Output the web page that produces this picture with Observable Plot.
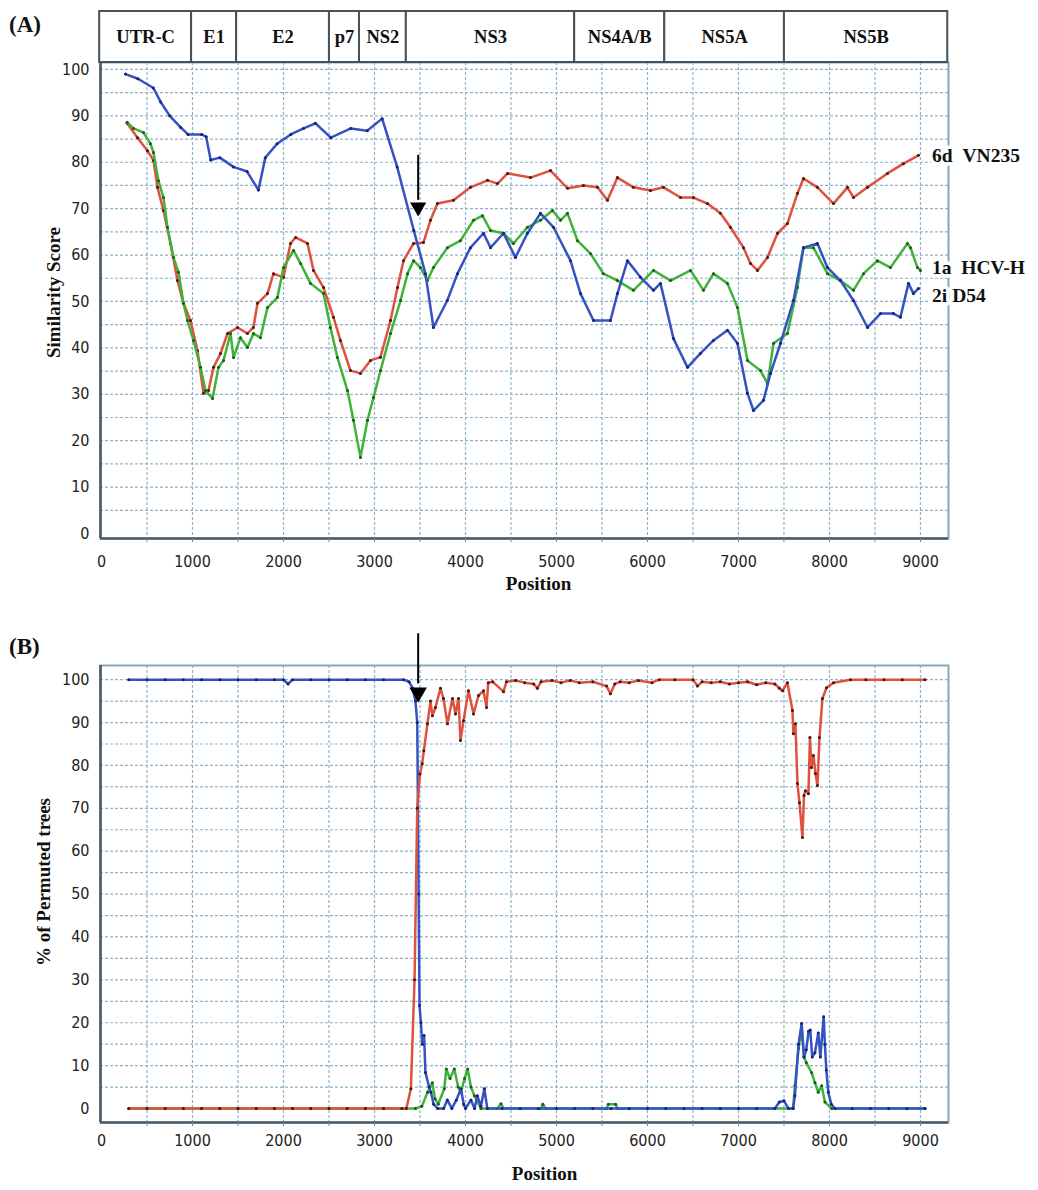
<!DOCTYPE html>
<html>
<head>
<meta charset="utf-8">
<script src="https://cdn.jsdelivr.net/npm/d3@7"></script>
<script src="https://cdn.jsdelivr.net/npm/@observablehq/plot@0.6"></script>
<style>
  body { margin: 0; background: #fff; }
  #wrap { position: relative; width: 1038px; height: 1190px; overflow: hidden; background: #fff; }
  #wrap svg { position: absolute; left: 0; }
  .plab { position: absolute; left: 9px; font-family: "Liberation Serif", "Times New Roman", serif; font-weight: bold; font-size: 23px; line-height: 23px; color: #111; }
</style>
</head>
<body>
<div id="wrap">
  <div class="plab" style="top:13px">(A)</div>
  <div class="plab" style="top:635px">(B)</div>
</div>
<script>
// ---------------- DATA ----------------
const geneNames = ["UTR-C", "E1", "E2", "p7", "NS2", "NS3", "NS4A/B", "NS5A", "NS5B"];
const geneStart = [-20, 990, 1485, 2505, 2835, 3350, 5200, 6190, 7505];
const geneEnd   = [990, 1485, 2505, 2835, 3350, 5200, 6190, 7505, 9300];

const xTickLabels = [0, 1000, 2000, 3000, 4000, 5000, 6000, 7000, 8000, 9000];
const xGrid = [500, 1000, 1500, 2000, 2500, 3000, 3500, 4000, 4500, 5000, 5500, 6000, 6500, 7000, 7500, 8000, 8500, 9000];
const yTickLabels = [0, 10, 20, 30, 40, 50, 60, 70, 80, 90, 100];
const yGrid = [5, 10, 15, 20, 25, 30, 35, 40, 45, 50, 55, 60, 65, 70, 75, 80, 85, 90, 95, 100];

const seriesNames = ["6d\u00a0\u00a0VN235", "1a\u00a0\u00a0HCV-H", "2i\u00a0D54"];
const seriesLabelY = [81.5, 57.3, 51.3];

// Panel A: similarity score
const simPos6d = [282,396,505,571,615,681,758,835,901,978,1055,1121,1176,1231,1308,1385,1495,1604,1670,1714,1824,1890,2000,2077,2132,2264,2330,2440,2549,2626,2736,2846,2956,3066,3176,3253,3319,3429,3538,3615,3692,3868,4055,4242,4352,4462,4714,4934,5121,5297,5451,5560,5670,5846,6033,6176,6363,6505,6659,6802,6912,7055,7132,7209,7319,7429,7538,7648,7714,7868,8044,8198,8264,8418,8637,8813,8978];
const simVal6d = [88.4,85.3,82.5,80.4,74.6,69.6,62.5,54.5,49.6,45.9,39.4,30.2,30.8,35.8,38.8,43.1,44.4,43.1,44.4,49.6,51.7,56,55.2,62.5,63.8,62.5,56.7,53,46.6,41.6,35.1,34.5,37.3,38,45.9,53,58.8,62.5,62.7,67.5,71.1,71.8,74.6,76.1,75.4,77.6,76.7,78.2,74.4,75,74.6,71.8,76.7,74.6,73.9,74.6,72.4,72.4,71.1,69,66,61.6,58.2,56.7,59.5,64.7,66.8,73.3,76.5,74.6,71.1,74.6,72.4,74.6,77.6,79.7,81.5];

const simPos1a = [282,352,462,538,571,626,681,725,791,846,901,945,1011,1088,1143,1220,1286,1341,1418,1451,1527,1604,1670,1747,1824,1934,2000,2110,2187,2297,2440,2516,2593,2703,2769,2846,2923,2989,3066,3176,3286,3363,3429,3505,3582,3648,3802,3945,4088,4187,4275,4418,4527,4681,4824,4956,5044,5121,5231,5374,5516,5670,5846,6066,6253,6473,6615,6725,6879,6989,7099,7242,7319,7385,7538,7648,7714,7824,7978,8121,8264,8374,8527,8670,8857,8890,8967,9000];
const simVal1a = [88.6,87.3,86.4,84,82.1,76,72.4,66,59.5,56.3,49.6,45.9,41.6,35.8,30.8,29.1,35.8,37.3,43.1,37.9,42.2,40.1,43.1,42.2,48.7,50.9,57.3,61,58.2,53.9,51.7,44.4,37.9,30.8,24.4,16.4,24.4,29.3,35.1,43.1,50.2,56,58.8,57.3,54.5,57.3,61.6,63.1,67.5,68.5,65.3,64.7,62.5,66,67.5,69.6,67.5,69,63.1,60.3,56,54.5,52.4,56.7,54.5,56.7,52.4,56,53.9,48.7,37.3,35.1,32.3,41,43.1,53,61.6,61.6,56,54.5,52.4,56,58.8,57.3,62.5,61.6,57.3,56.7];

const simPos2i = [264,400,570,650,750,870,950,1100,1150,1200,1300,1450,1600,1725,1800,1930,2080,2220,2350,2520,2740,2920,3084,3249,3432,3560,3648,3800,3912,4055,4198,4275,4418,4549,4681,4824,4967,5154,5264,5407,5593,5670,5780,5923,6066,6143,6286,6440,6582,6725,6879,6989,7099,7165,7275,7352,7462,7604,7714,7868,7978,8121,8264,8418,8560,8703,8780,8868,8923,8978];
const simVal2i = [99,98,96,93,90,87.5,86,86,85.5,80.5,81,79,78,74,81,84,86,87.3,88.4,85.3,87.3,86.8,89.4,79,65.3,56,44.4,50.2,56,61.6,64.7,61.6,64.7,59.5,64.7,69,66,58.8,51.7,45.9,45.9,51.7,58.8,55.2,52.4,53.9,42,35.8,38.8,41.6,43.8,41,30.2,26.5,28.7,34.5,41,50.2,61.6,62.5,57.3,54.5,50.2,44.4,47.4,47.4,46.6,53.9,51.7,52.8];

// Panel B: % of permuted trees
const bootPos6d = [300,500,700,900,1100,1300,1500,1700,1900,2100,2300,2500,2700,2900,3100,3300,3350,3400,3440,3470,3500,3524,3542,3582,3615,3637,3670,3725,3758,3802,3857,3890,3923,3945,3978,4033,4088,4143,4198,4231,4250,4300,4418,4450,4550,4650,4750,4790,4830,4950,5050,5150,5250,5400,5550,5593,5640,5700,5800,5900,6050,6130,6300,6500,6549,6600,6700,6800,6900,7000,7100,7200,7300,7400,7450,7484,7538,7593,7604,7626,7648,7670,7703,7720,7736,7769,7785,7802,7824,7846,7868,7890,7923,7967,8044,8231,8400,8600,8800,9050];
const bootVal6d = [0,0,0,0,0,0,0,0,0,0,0,0,0,0,0,0,0,4.6,30,70,78,80.4,83.4,89.7,95,91.6,93.5,98,95.6,89.7,95.6,92,95.6,85.8,90.4,97.4,92,96.3,97.4,93.5,99.3,99.5,97.2,99.5,99.8,99.3,99,98,99.5,99.8,99.3,99.8,99.3,99.5,98.5,96.7,99,99.5,99.3,99.8,99.3,100,100,100,98.5,99.5,99.3,99.5,99,99.3,99.5,98.8,99.3,99,98,97.4,99.3,92.8,87.4,89.7,75.8,71.3,63.2,73,74.1,73.4,86.5,79.5,82.3,78.1,75.3,86.5,95.6,98.1,99.3,100,100,100,100,100];

const bootPos2i = [300,500,700,900,1100,1300,1500,1700,1900,2000,2050,2100,2300,2500,2700,2900,3100,3320,3380,3420,3450,3470,3485,3495,3510,3525,3545,3560,3600,3620,3650,3694,3760,3800,3850,3900,3950,3980,4000,4060,4100,4130,4170,4207,4240,4400,4600,4800,5000,5200,5400,5600,5800,6000,6200,6400,6600,6800,7000,7200,7400,7450,7500,7550,7600,7620,7660,7694,7720,7745,7770,7789,7810,7840,7877,7900,7936,7950,7965,7987,8020,8060,8250,8450,8650,8850,9050];
const bootVal2i = [100,100,100,100,100,100,100,100,100,100,99,100,100,100,100,100,100,100,99.5,98,95,90,50,24,20,15,17,8.4,5,3.8,1,0,0,2,0,2,4.6,1,0,2,0,3,0.5,4.6,0,0,0,0,0,0,0,0,0,0,0,0,0,0,0,0,0,1.5,1.8,0,0,3,15,19.8,12,13.7,18,18.3,12,13,17.6,12,21.4,15,9,3.8,1,0,0,0,0,0,0];

const bootPos1a = [300,500,700,900,1100,1300,1500,1700,1900,2100,2300,2500,2700,2900,3100,3300,3450,3520,3583,3635,3665,3700,3767,3789,3830,3877,3920,3950,3990,4024,4060,4097,4170,4350,4390,4420,4830,4850,4880,5550,5570,5650,5670,7600,7620,7660,7694,7720,7745,7803,7840,7877,7914,7950,8024,9050];
const bootVal1a = [0,0,0,0,0,0,0,0,0,0,0,0,0,0,0,0,0,0.5,3.8,6,2.3,1,4.6,9.2,7,9.2,5,3.8,7,9.2,5,3,0,0,1.1,0,0,1,0,0,1,1,0,0,5.3,14,19,12,10.7,8.4,6,3.8,5.3,1.5,0,0];

// breakpoint arrow (position, line top, head centre)
const arrowPos = [3480];
const arrowA = [81.5, 70.3];
const arrowB = [110.7, 97.0];

// ---------------- STYLE ----------------
const serif = "'Liberation Serif', 'Times New Roman', serif";
const tickFont = "'DejaVu Sans', sans-serif";
const gridColor = "#8db4cb";
const colRed = "#e0503e", dotRed = "#3a1c14";
const colGreen = "#3fb23a", dotGreen = "#1d5a1a";
const colBlue = "#3552c4", dotBlue = "#1a2370";
const xDomain = [-11, 9308];

const zip = (p, v) => p.map((x, i) => ({x, y: v[i]}));
const genes = geneNames.map((name, i) => ({name, start: geneStart[i], end: geneEnd[i]}));

function seriesMarks(data, col, dotCol) {
  return [
    Plot.line(data, {x: "x", y: "y", stroke: col, strokeWidth: 2.5}),
    Plot.dot(data, {x: "x", y: "y", r: 1.5, fill: dotCol, stroke: "none"})
  ];
}

function baseMarks(yDom, tickPad, titleY, titleDx, titleDy) {
  return [
    Plot.ruleX(xGrid, {stroke: gridColor, strokeWidth: 1.2, strokeDasharray: "3,2"}),
    Plot.ruleY(yGrid, {stroke: gridColor, strokeWidth: 1.2, strokeDasharray: "3,2"}),
    Plot.frame({stroke: "#86a7ba", strokeWidth: 2}),
    Plot.ruleX([xDomain[0]], {stroke: "#4d5a64", strokeWidth: 2.6}),
    Plot.ruleY([yDom[0]], {stroke: "#4d5a64", strokeWidth: 2.6}),
    Plot.axisY({ticks: yTickLabels, tickSize: 0, tickPadding: 11, label: null, fill: "#222"}),
    Plot.axisX({ticks: xTickLabels, tickSize: 0, tickPadding: tickPad, tickFormat: d3.format("d"), label: null, fill: "#222"}),
    Plot.axisX({ticks: xGrid, tickSize: 4, tickFormat: () => "", label: null, stroke: "#6d8594"}),
    Plot.text([titleY], {frameAnchor: "left", textAnchor: "middle", dx: titleDx, dy: titleDy, rotate: -90, fontFamily: serif, fontWeight: "bold", fontSize: 19, fill: "#111"})
  ];
}

// ---------------- GENE MAP ----------------
const G = Plot.plot({
  width: 1038, height: 64,
  marginTop: 11, marginBottom: 2, marginLeft: 100, marginRight: 90,
  style: {background: "transparent"},
  x: {domain: xDomain, axis: null},
  y: {domain: [0, 1], axis: null},
  marks: [
    Plot.rect(genes, {x1: "start", x2: "end", y1: 0, y2: 1, fill: "white", stroke: "#46525b", strokeWidth: 2}),
    Plot.text(genes, {x: d => (d.start + d.end) / 2, y: 0.5, text: "name", fontFamily: serif, fontWeight: "bold", fontSize: 18.5, fill: "#111"})
  ]
});

// ---------------- PANEL A ----------------
const yDomA = [-1.08, 101.5];
const A = Plot.plot({
  width: 1038, height: 608,
  marginTop: 62, marginBottom: 70, marginLeft: 100, marginRight: 90,
  style: {background: "transparent", fontFamily: tickFont, fontStretch: "condensed", fontSize: "16px"},
  x: {domain: xDomain, label: null},
  y: {domain: yDomA, label: null},
  marks: [
    ...baseMarks(yDomA, 17, "Similarity Score", -47, -8),
    Plot.text(["Position"], {frameAnchor: "bottom", dx: 14, dy: 51, fontFamily: serif, fontWeight: "bold", fontSize: 19, fill: "#111"}),
    ...seriesMarks(zip(simPos6d, simVal6d), colRed, dotRed),
    ...seriesMarks(zip(simPos1a, simVal1a), colGreen, dotGreen),
    ...seriesMarks(zip(simPos2i, simVal2i), colBlue, dotBlue),
    Plot.ruleX(arrowPos, {y1: arrowA[0], y2: arrowA[1] + 1.5, stroke: "#000", strokeWidth: 2}),
    Plot.dot(arrowPos, {x: d => d, y: arrowA[1], symbol: "triangle", rotate: 180, r: 6, fill: "#000", stroke: "none"}),
    Plot.text(seriesNames, {x: 9128, y: (d, i) => seriesLabelY[i], text: d => d, textAnchor: "start", fontFamily: serif, fontWeight: "bold", fontSize: 19.5, fill: "#111", stroke: "white", strokeWidth: 7, paintOrder: "stroke"})
  ]
});

// ---------------- PANEL B ----------------
const yDomB = [-3.26, 103.3];
const B = Plot.plot({
  width: 1038, height: 570,
  marginTop: 45, marginBottom: 68, marginLeft: 100, marginRight: 90,
  style: {background: "transparent", fontFamily: tickFont, fontStretch: "condensed", fontSize: "16px"},
  x: {domain: xDomain, label: null},
  y: {domain: yDomB, label: null},
  marks: [
    ...baseMarks(yDomB, 12, "% of Permuted trees", -57, -12),
    Plot.text(["Position"], {frameAnchor: "bottom", dx: 20, dy: 57, fontFamily: serif, fontWeight: "bold", fontSize: 19, fill: "#111"}),
    ...seriesMarks(zip(bootPos1a, bootVal1a), colGreen, dotGreen),
    ...seriesMarks(zip(bootPos2i, bootVal2i), colBlue, dotBlue),
    ...seriesMarks(zip(bootPos6d, bootVal6d), colRed, dotRed),
    Plot.ruleX(arrowPos, {y1: arrowB[0], y2: arrowB[1] + 2, stroke: "#000", strokeWidth: 2}),
    Plot.dot(arrowPos, {x: d => d, y: arrowB[1], symbol: "triangle", rotate: 180, r: 6.5, fill: "#000", stroke: "none"})
  ]
});

const wrap = document.getElementById("wrap");
A.style.top = "0px";
G.style.top = "0px";
B.style.top = "620px";
wrap.appendChild(A);
wrap.appendChild(G);
wrap.appendChild(B);
</script>
</body>
</html>
